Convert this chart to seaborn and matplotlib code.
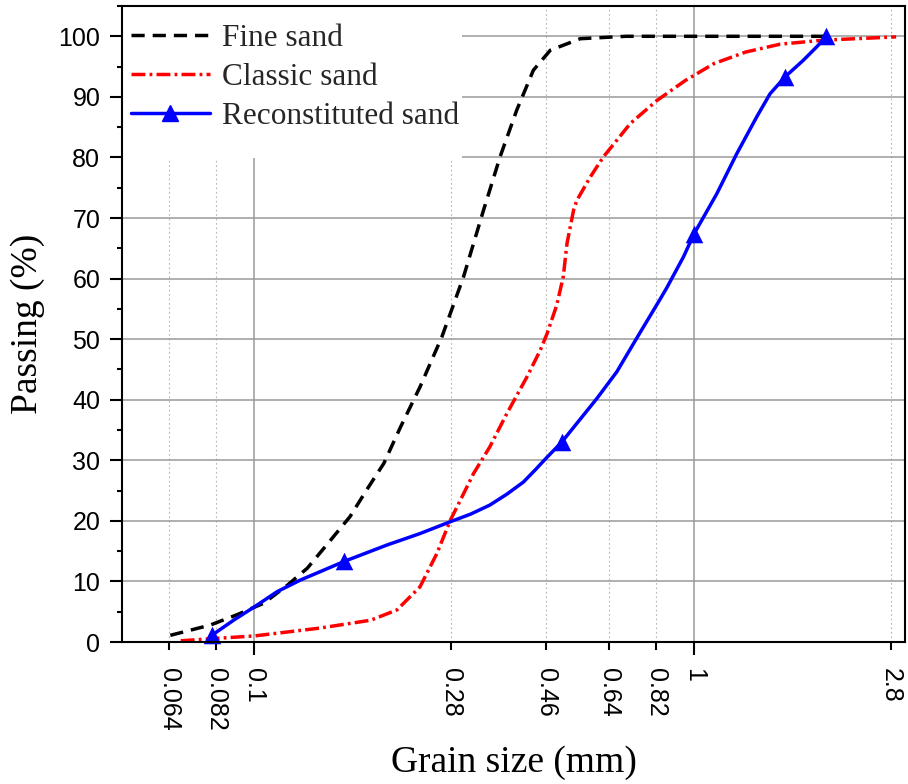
import numpy as np
import pandas as pd
import matplotlib
matplotlib.use("Agg")
import matplotlib.pyplot as plt
import seaborn as sns
from matplotlib.lines import Line2D
from matplotlib.patches import Rectangle
from matplotlib.ticker import FixedLocator, FuncFormatter, MultipleLocator

# ---- data ----
fine_x = [0.0644, 0.0794, 0.0913, 0.105, 0.119, 0.132, 0.149, 0.165, 0.180, 0.197,
          0.215, 0.238, 0.267, 0.299, 0.332, 0.343, 0.362, 0.395, 0.431, 0.471,
          0.551, 0.7, 1.0, 2.0]
fine_y = [1.1, 2.8, 4.5, 6.4, 9.4, 12.2, 16.8, 20.7, 25.1, 29.5,
          35.5, 42.1, 50.4, 60.3, 71.3, 74.6, 80.1, 87.8, 94.4, 97.7,
          99.6, 100, 100, 100]

classic_x = [0.068, 0.082, 0.1, 0.141, 0.184, 0.211, 0.238, 0.260, 0.279, 0.294,
             0.315, 0.343, 0.375, 0.417, 0.447, 0.463, 0.487, 0.504, 0.514, 0.532,
             0.541, 0.581, 0.622, 0.716, 0.823, 0.955, 1.11, 1.31, 1.57, 1.93,
             2.17, 2.88]
classic_y = [0.2, 0.6, 1.0, 2.3, 3.6, 5.3, 9.1, 14.6, 20.1, 23.4,
             27.8, 32.2, 37.7, 43.8, 48.2, 50.9, 55.6, 60.3, 65.8, 71.3,
             72.9, 76.8, 80.1, 85.6, 89.4, 92.7, 95.5, 97.4, 98.7, 99.3,
             99.5, 99.9]

recon_x = [0.080, 0.0897, 0.1, 0.1126, 0.127, 0.141, 0.16, 0.200, 0.238, 0.28,
           0.31, 0.343, 0.375, 0.409, 0.435, 0.463, 0.5, 0.601, 0.667, 0.741,
           0.837, 0.867, 0.946, 1.0, 1.126, 1.25, 1.388, 1.488, 1.61, 1.769,
           1.897, 2.0]
recon_y = [1.1, 3.6, 5.8, 8.3, 10.2, 11.6, 13.3, 16.0, 17.9, 19.9,
           21.1, 22.6, 24.4, 26.4, 28.4, 30.5, 33.0, 40.2, 44.6, 50.2,
           56.6, 58.5, 63.6, 67.4, 74.0, 80.6, 86.7, 90.5, 93.3, 96.0,
           98.2, 100]

recon_marker_x = [0.08, 0.16, 0.5, 1.0, 1.61, 2.0]
recon_marker_y = [1.1, 13.3, 33.0, 67.4, 93.3, 100]

series_labels = ["Fine sand", "Classic sand", "Reconstituted sand"]

xticks_major = [0.1, 1]
xticks_minor = [0.064, 0.082, 0.28, 0.46, 0.64, 0.82, 2.8]

# ---- style ----
sns.set_theme(style="ticks")
plt.rcParams["font.family"] = ["Liberation Sans", "DejaVu Sans"]
serif = ["Liberation Serif", "DejaVu Serif"]

fig = plt.figure(figsize=(9.08, 7.84), dpi=100)
ax = fig.add_axes([122 / 908, 142 / 784, 783 / 908, 636 / 784])
ax.set_xscale("log")

lw = 2.5
fine_ls = (0, (3.8, 2.3))
classic_ls = (0, (4.0, 1.2, 0.8, 1.2))

df_f = pd.DataFrame({"x": fine_x, "y": fine_y})
df_c = pd.DataFrame({"x": classic_x, "y": classic_y})
df_r = pd.DataFrame({"x": recon_x, "y": recon_y})
df_m = pd.DataFrame({"x": recon_marker_x, "y": recon_marker_y})

sns.lineplot(data=df_f, x="x", y="y", ax=ax, color="black", linewidth=lw,
             linestyle=fine_ls, sort=False, estimator=None, zorder=3)
sns.lineplot(data=df_c, x="x", y="y", ax=ax, color="red", linewidth=lw,
             linestyle=classic_ls, sort=False, estimator=None, zorder=3)
sns.lineplot(data=df_r, x="x", y="y", ax=ax, color="blue", linewidth=lw,
             sort=False, estimator=None, zorder=4)
sns.scatterplot(data=df_m, x="x", y="y", ax=ax, color="blue", marker="^",
                s=160, edgecolor="blue", linewidth=0, zorder=5, clip_on=False)

ax.set_xlim(0.05, 3.017)
ax.set_ylim(0, 105)

ax.xaxis.set_major_locator(FixedLocator(xticks_major))
ax.xaxis.set_minor_locator(FixedLocator(xticks_minor))
fmt = FuncFormatter(lambda v, p: f"{v:g}")
ax.xaxis.set_major_formatter(fmt)
ax.xaxis.set_minor_formatter(fmt)
ax.yaxis.set_major_locator(MultipleLocator(10))
ax.yaxis.set_minor_locator(MultipleLocator(5))

ax.tick_params(axis="x", which="major", length=9.4, width=1.5, pad=9,
               labelsize=18, labelrotation=-90, bottom=True, top=False, color="black")
ax.tick_params(axis="x", which="minor", length=5.8, width=1.5, pad=12.6,
               labelsize=18, labelrotation=-90, bottom=True, top=False, color="black")
ax.tick_params(axis="y", which="major", length=8.6, width=1.5, pad=7,
               labelsize=18, left=True, right=False, color="black")
ax.tick_params(axis="y", which="minor", length=3.6, width=1.5,
               left=True, right=False, color="black")
for lab in ax.get_xticklabels(which="both") + ax.get_yticklabels():
    lab.set_color("black")

ax.grid(which="major", axis="both", color="#9a9a9a", lw=1.1, ls="-", zorder=0)
ax.grid(which="minor", axis="x", color="#b5b5b5", lw=0.8, ls=(0, (1.5, 2.5)), zorder=0)
ax.set_axisbelow(True)

# white area behind the legend that hides the grid there
ax.add_patch(Rectangle((0, (642 - 158) / 636), (462 - 122) / 783, 158 / 636,
                       transform=ax.transAxes, facecolor="white", edgecolor="none",
                       zorder=1))

for sp in ax.spines.values():
    sp.set_visible(True)
    sp.set_color("black")
    sp.set_linewidth(1.5)
    sp.set_zorder(7)

ax.set_xlabel("Grain size (mm)", fontfamily=serif, fontsize=27, labelpad=11, color="black")
ax.set_ylabel("Passing (%)", fontfamily=serif, fontsize=27, labelpad=10, color="black")

handles = [
    Line2D([], [], color="black", lw=lw, linestyle=fine_ls),
    Line2D([], [], color="red", lw=lw, linestyle=classic_ls),
    Line2D([], [], color="blue", lw=lw, marker="^", markersize=12),
]
leg = ax.legend(handles, series_labels, loc="upper left",
                bbox_to_anchor=(0, 1 - 9 / 636),
                borderaxespad=0.0, frameon=False,
                prop={"family": serif, "size": 22.5},
                handlelength=2.5, handletextpad=0.4, labelspacing=0.31, borderpad=0.3,
                numpoints=1)
leg.set_zorder(6)

fig.savefig("out.png", dpi=100)
